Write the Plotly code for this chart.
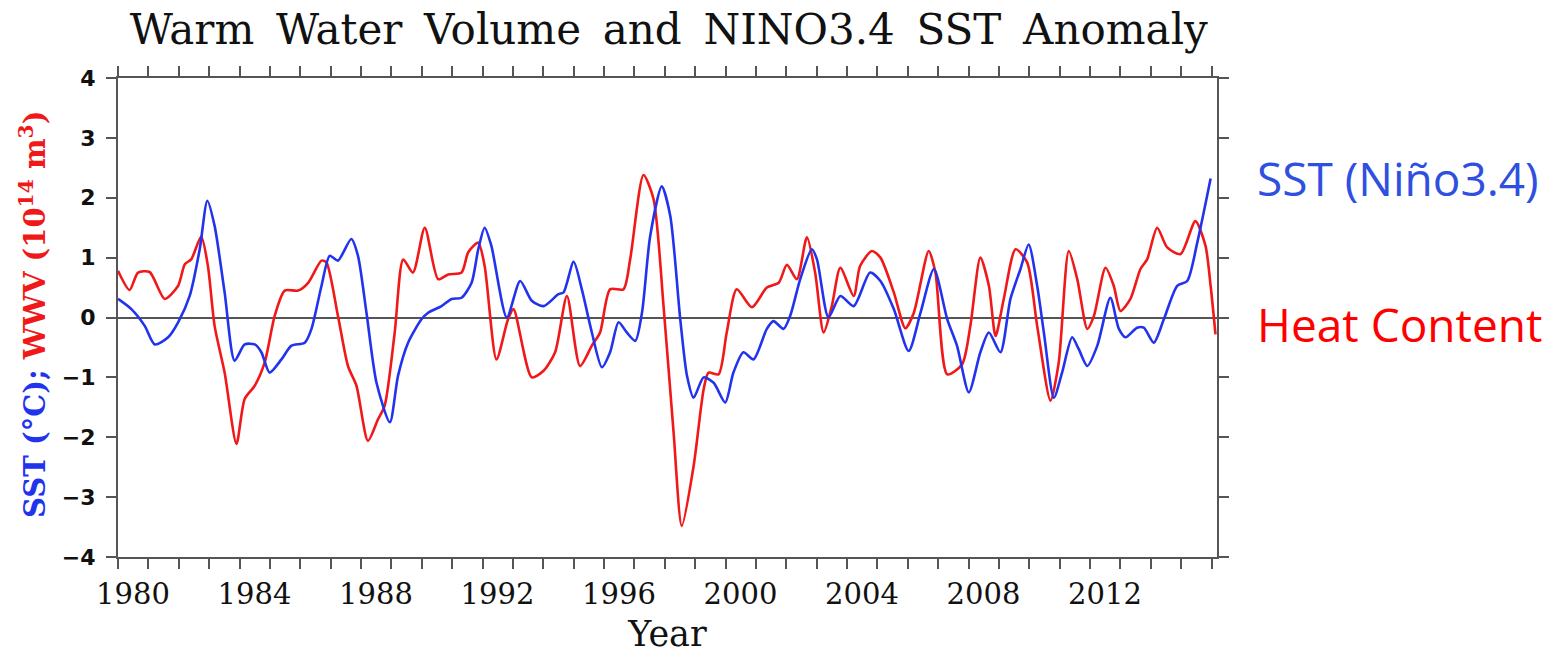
import plotly.graph_objects as go

# Warm Water Volume (heat content) anomaly, 10^14 m^3
wwv_year = [1980.00, 1980.38, 1980.66, 1981.04, 1981.54, 1981.98, 1982.20, 1982.41, 1982.74, 1982.96,
            1983.18, 1983.51, 1983.90, 1984.17, 1984.50, 1984.83, 1985.16, 1985.49, 1985.93, 1986.26,
            1986.70, 1986.86, 1987.24, 1987.57, 1987.85, 1988.23, 1988.56, 1988.78, 1989.11, 1989.39,
            1989.71, 1990.10, 1990.54, 1990.87, 1991.31, 1991.53, 1991.86, 1992.07, 1992.46, 1992.84,
            1993.02, 1993.62, 1994.01, 1994.39, 1994.78, 1995.21, 1995.60, 1995.87, 1996.20, 1996.64,
            1996.86, 1997.30, 1997.63, 1997.96, 1998.29, 1998.56, 1998.95, 1999.28, 1999.44, 1999.77,
            2000.04, 2000.37, 2000.87, 2001.36, 2001.75, 2002.02, 2002.35, 2002.68, 2002.95, 2003.23,
            2003.50, 2003.78, 2004.22, 2004.43, 2004.82, 2005.10, 2005.54, 2005.92, 2006.20, 2006.69,
            2006.91, 2007.30, 2007.79, 2008.06, 2008.39, 2008.67, 2008.89, 2009.16, 2009.55, 2009.93,
            2010.26, 2010.70, 2010.97, 2011.30, 2011.58, 2011.91, 2012.13, 2012.51, 2012.78, 2013.00,
            2013.33, 2013.66, 2013.88, 2014.21, 2014.54, 2014.98, 2015.47, 2015.80, 2015.97, 2016.13]
wwv_value = [0.78, 0.46, 0.75, 0.76, 0.31, 0.53, 0.89, 0.97, 1.35, 0.86,
             -0.14, -0.92, -2.11, -1.36, -1.14, -0.75, 0.03, 0.45, 0.45, 0.58,
             0.95, 0.92, 0.03, -0.81, -1.14, -2.06, -1.70, -1.47, -0.25, 0.97,
             0.75, 1.50, 0.64, 0.72, 0.75, 1.09, 1.25, 0.86, -0.70, -0.03,
             0.14, -1.00, -0.89, -0.58, 0.36, -0.81, -0.47, -0.25, 0.47, 0.47,
             0.97, 2.38, 1.98, 0.19, -1.92, -3.48, -2.48, -1.20, -0.92, -0.95,
             -0.25, 0.47, 0.17, 0.50, 0.58, 0.88, 0.64, 1.34, 0.75, -0.25,
             0.19, 0.83, 0.36, 0.86, 1.11, 1.00, 0.42, -0.18, 0.08, 1.11,
             0.75, -0.95, -0.78, -0.14, 1.00, 0.53, -0.31, 0.31, 1.14, 0.92,
             -0.14, -1.39, -0.75, 1.11, 0.64, -0.19, 0.03, 0.83, 0.53, 0.11,
             0.31, 0.81, 0.97, 1.50, 1.17, 1.06, 1.61, 1.20, 0.53, -0.28]

# NINO3.4 SST anomaly, deg C
sst_year = [1980.00, 1980.44, 1980.88, 1981.21, 1981.65, 1981.98, 1982.36, 1982.69, 1982.94, 1983.18,
            1983.51, 1983.84, 1984.17, 1984.50, 1984.72, 1984.99, 1985.38, 1985.71, 1986.15, 1986.37,
            1986.70, 1986.97, 1987.24, 1987.68, 1987.90, 1988.18, 1988.51, 1988.95, 1989.22, 1989.55,
            1989.99, 1990.21, 1990.65, 1990.98, 1991.31, 1991.64, 1991.86, 1992.07, 1992.29, 1992.80,
            1993.24, 1993.62, 1994.01, 1994.50, 1994.67, 1995.00, 1995.27, 1995.60, 1995.93, 1996.20,
            1996.48, 1996.75, 1997.03, 1997.25, 1997.52, 1997.90, 1998.18, 1998.51, 1998.73, 1998.95,
            1999.28, 1999.61, 1999.99, 2000.26, 2000.59, 2000.92, 2001.36, 2001.58, 2001.91, 2002.13,
            2002.46, 2002.84, 2003.01, 2003.39, 2003.78, 2004.22, 2004.76, 2005.10, 2005.54, 2006.03,
            2006.42, 2006.86, 2007.30, 2007.62, 2008.01, 2008.39, 2008.67, 2009.05, 2009.38, 2009.71,
            2009.98, 2010.26, 2010.48, 2010.81, 2011.08, 2011.41, 2011.63, 2011.91, 2012.24, 2012.67,
            2012.95, 2013.17, 2013.55, 2013.77, 2014.10, 2014.43, 2014.87, 2015.20, 2015.53, 2015.97]
sst_value = [0.31, 0.14, -0.14, -0.45, -0.33, -0.08, 0.36, 1.14, 1.95, 1.53,
             0.42, -0.72, -0.45, -0.45, -0.58, -0.92, -0.70, -0.47, -0.42, -0.19,
             0.53, 1.03, 0.95, 1.31, 1.03, 0.08, -1.09, -1.75, -0.97, -0.42,
             -0.03, 0.08, 0.19, 0.31, 0.33, 0.58, 1.14, 1.50, 1.20, 0.00,
             0.61, 0.28, 0.19, 0.39, 0.42, 0.93, 0.47, -0.25, -0.83, -0.58,
             -0.08, -0.25, -0.39, 0.08, 1.36, 2.19, 1.70, -0.03, -0.97, -1.34,
             -1.00, -1.09, -1.42, -0.92, -0.58, -0.70, -0.19, -0.06, -0.19, 0.03,
             0.64, 1.14, 0.97, 0.00, 0.36, 0.19, 0.75, 0.61, 0.14, -0.56,
             0.08, 0.81, -0.03, -0.47, -1.25, -0.58, -0.25, -0.58, 0.31, 0.81,
             1.22, 0.53, -0.25, -1.34, -0.92, -0.33, -0.53, -0.81, -0.47, 0.33,
             -0.19, -0.33, -0.17, -0.17, -0.42, -0.03, 0.53, 0.61, 1.25, 2.32]

year_ticks = list(range(1980, 2017))
year_labels = [str(y) if (y - 1980) % 4 == 0 and y <= 2012 else "" for y in year_ticks]
y_ticks = [-4, -3, -2, -1, 0, 1, 2, 3, 4]

title_words = ["Warm", "Water", "Volume", "and", "NINO3.4", "SST", "Anomaly"]

fig = go.Figure()
fig.add_trace(go.Scatter(x=wwv_year, y=wwv_value, mode="lines", name="WWV",
                         line=dict(color="#F01818", width=2.6, shape="spline", smoothing=0.7)))
fig.add_trace(go.Scatter(x=sst_year, y=sst_value, mode="lines", name="SST",
                         line=dict(color="#2233EE", width=2.6, shape="spline", smoothing=0.7)))

axis_col = "#555555"
fig.update_layout(
    width=1550, height=659,
    margin=dict(l=118, r=333, t=78, b=102),
    paper_bgcolor="white", plot_bgcolor="white",
    showlegend=False,
    title=dict(text=" \u2009".join(title_words),
               font=dict(family="DejaVu Serif", size=42, color="#111111"),
               x=0.4315, xanchor="center", y=1 - 29 / 659, yanchor="middle"),
    xaxis=dict(range=[1980, 2016.18], tickmode="array", tickvals=year_ticks, ticktext=year_labels,
               ticks="outside", ticklen=10, tickwidth=1.5, tickcolor=axis_col,
               showline=True, linecolor=axis_col, linewidth=2, mirror="ticks",
               showgrid=False, zeroline=False, ticklabelshift=15,
               tickfont=dict(family="DejaVu Serif", size=29, color="#111111"),
               title=dict(text="Year", font=dict(family="DejaVu Serif", size=35, color="#111111"),
                          standoff=12)),
    yaxis=dict(range=[-4, 4], tickmode="array", tickvals=y_ticks,
               ticks="outside", ticklen=10, tickwidth=1.5, tickcolor=axis_col,
               showline=True, linecolor=axis_col, linewidth=2, mirror="ticks",
               showgrid=False, zeroline=True, zerolinecolor="#555555", zerolinewidth=1.8,
               tickfont=dict(family="DejaVu Sans", size=22, color="#111111", weight="bold"),
               ticklabelstandoff=6),
)

fig.add_annotation(
    text='<span style="color:#2233EE">SST (°C); </span><span style="color:#F01818">WWV (10<sup>14</sup> m<sup>3</sup>)</span>',
    xref="paper", yref="paper", x=(33 - 118) / 1099, y=(557 - 315) / 479,
    xanchor="center", yanchor="middle", textangle=-90, showarrow=False,
    font=dict(family="DejaVu Serif", size=29, weight="bold"))

fig.add_annotation(text="SST (Niño3.4)", xref="paper", yref="paper",
                   x=(1255 - 118) / 1099, y=(557 - 178) / 479, xanchor="left", yanchor="middle",
                   showarrow=False, font=dict(family="Open Sans", size=46, color="#2F4FE0"))
fig.add_annotation(text="Heat Content", xref="paper", yref="paper",
                   x=(1255 - 118) / 1099, y=(557 - 324) / 479, xanchor="left", yanchor="middle",
                   showarrow=False, font=dict(family="Open Sans", size=46, color="#FF0000"))

fig.write_html("out.html")
